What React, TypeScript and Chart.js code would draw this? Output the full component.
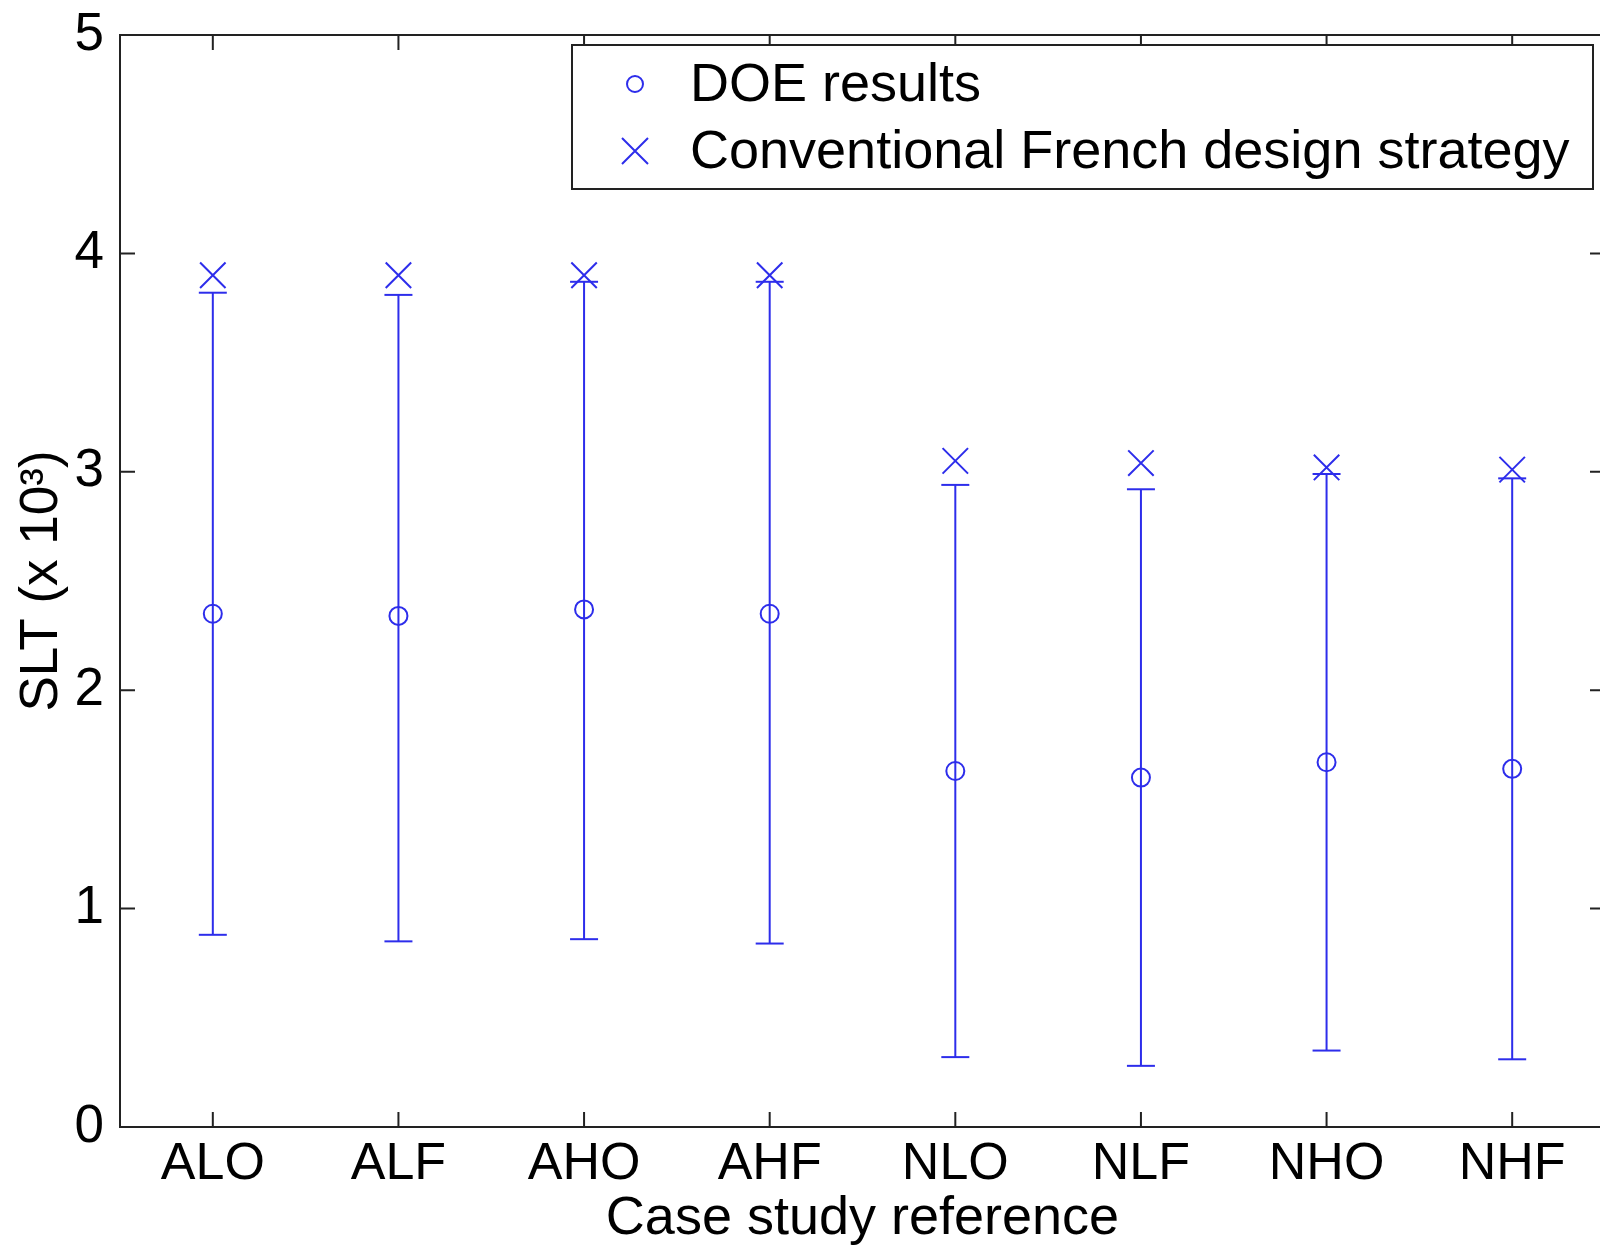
import React, { useEffect, useRef } from 'react';
import { Chart, registerables } from 'chart.js';

Chart.register(...registerables);

// ---- Data ----
const categories = ['ALO', 'ALF', 'AHO', 'AHF', 'NLO', 'NLF', 'NHO', 'NHF'];
const doeMean = [2.35, 2.34, 2.37, 2.35, 1.63, 1.60, 1.67, 1.64];
const doeUpper = [3.82, 3.81, 3.87, 3.87, 2.94, 2.92, 2.99, 2.97];
const doeLower = [0.88, 0.85, 0.86, 0.84, 0.32, 0.28, 0.35, 0.31];
const conventional = [3.90, 3.90, 3.90, 3.90, 3.05, 3.04, 3.02, 3.01];
const yTicks = [0, 1, 2, 3, 4, 5];
const seriesLabels = ['DOE results', 'Conventional French design strategy'];
const xTitle = 'Case study reference';
const yTitle = 'SLT (x 10³)';

const BLUE = 'rgb(45,45,235)';
const FONT = '"Liberation Sans", Arial, Helvetica, sans-serif';

const axesBoxPlugin = {
  id: 'axesBox',
  afterDatasetsDraw(chart: any) {
    const { ctx, chartArea, scales } = chart;
    const { left, right, top, bottom } = chartArea;
    const tl = 15;
    ctx.save();
    ctx.strokeStyle = '#222';
    ctx.lineWidth = 2;
    ctx.strokeRect(left, top, right - left, bottom - top);
    ctx.beginPath();
    scales.x.ticks.forEach((t: any) => {
      const px = scales.x.getPixelForValue(t.value);
      ctx.moveTo(px, bottom);
      ctx.lineTo(px, bottom - tl);
      ctx.moveTo(px, top);
      ctx.lineTo(px, top + tl);
    });
    scales.y.ticks.forEach((t: any) => {
      const py = scales.y.getPixelForValue(t.value);
      ctx.moveTo(left, py);
      ctx.lineTo(left + tl, py);
      ctx.moveTo(right, py);
      ctx.lineTo(right - tl, py);
    });
    ctx.stroke();
    ctx.restore();
  },
};

const boxLegendPlugin = {
  id: 'boxLegend',
  afterDraw(chart: any) {
    const { ctx } = chart;
    const bx = 572, by = 45, bw = 1021, bh = 144;
    ctx.save();
    ctx.fillStyle = '#fff';
    ctx.fillRect(bx, by, bw, bh);
    ctx.strokeStyle = '#222';
    ctx.lineWidth = 2;
    ctx.strokeRect(bx, by, bw, bh);
    const rows = [84, 151];
    const mx = 635;
    ctx.strokeStyle = BLUE;
    ctx.lineWidth = 2;
    ctx.beginPath();
    ctx.arc(mx, rows[0], 8, 0, Math.PI * 2);
    ctx.stroke();
    ctx.beginPath();
    ctx.moveTo(mx - 13, rows[1] - 13);
    ctx.lineTo(mx + 13, rows[1] + 13);
    ctx.moveTo(mx + 13, rows[1] - 13);
    ctx.lineTo(mx - 13, rows[1] + 13);
    ctx.stroke();
    ctx.fillStyle = '#000';
    ctx.font = `54px ${FONT}`;
    ctx.textBaseline = 'middle';
    ctx.textAlign = 'left';
    seriesLabels.forEach((lbl, i) => ctx.fillText(lbl, 690, rows[i] + 2));
    ctx.restore();
  },
};

export default function App() {
  const ref = useRef<HTMLCanvasElement>(null);

  useEffect(() => {
    if (!ref.current) return;
    const errData: any[] = [];
    categories.forEach((_, i) => {
      errData.push({ x: i + 1, y: doeLower[i] });
      errData.push({ x: i + 1, y: doeUpper[i] });
      errData.push({ x: i + 1, y: null });
    });

    const chart = new Chart(ref.current, {
      type: 'scatter',
      data: {
        datasets: [
          {
            label: 'range',
            data: errData,
            showLine: true,
            spanGaps: false,
            borderColor: BLUE,
            borderWidth: 2,
            pointStyle: 'line',
            pointRadius: 14,
            pointBorderColor: BLUE,
            pointBorderWidth: 2,
            backgroundColor: BLUE,
          } as any,
          {
            label: seriesLabels[0],
            data: doeMean.map((v, i) => ({ x: i + 1, y: v })),
            pointStyle: 'circle',
            pointRadius: 9,
            pointBorderWidth: 2,
            borderColor: BLUE,
            pointBorderColor: BLUE,
            backgroundColor: 'rgba(0,0,0,0)',
            pointBackgroundColor: 'rgba(0,0,0,0)',
          } as any,
          {
            label: seriesLabels[1],
            data: conventional.map((v, i) => ({ x: i + 1, y: v })),
            pointStyle: 'crossRot',
            pointRadius: 18,
            pointBorderWidth: 2,
            borderColor: BLUE,
            pointBorderColor: BLUE,
          } as any,
        ],
      },
      options: {
        responsive: false,
        animation: false,
        devicePixelRatio: 1,
        events: [],
        layout: { padding: { top: 35, right: 2, left: 0, bottom: 0 } },
        plugins: {
          legend: { display: false },
          tooltip: { enabled: false },
        },
        scales: {
          x: {
            type: 'linear',
            min: 0.5,
            max: 8.5,
            grid: { display: false, drawTicks: false },
            border: { display: false },
            afterBuildTicks: (s: any) => {
              s.ticks = categories.map((_, i) => ({ value: i + 1 }));
            },
            afterFit: (s: any) => {
              s.height = 122;
              s.paddingLeft = 0;
              s.paddingRight = 0;
            },
            ticks: {
              autoSkip: false,
              maxRotation: 0,
              minRotation: 0,
              padding: 12,
              color: '#000',
              font: { family: FONT, size: 52, lineHeight: 1 },
              callback: (v: any) => categories[Math.round(Number(v)) - 1] ?? '',
            },
            title: {
              display: true,
              text: xTitle,
              color: '#000',
              font: { family: FONT, size: 54, lineHeight: 1 },
              padding: { top: 0, bottom: 3 },
            },
          },
          y: {
            type: 'linear',
            min: 0,
            max: 5,
            grid: { display: false, drawTicks: false },
            border: { display: false },
            afterBuildTicks: (s: any) => {
              s.ticks = yTicks.map((v) => ({ value: v }));
            },
            afterFit: (s: any) => {
              s.width = 120;
              s.paddingTop = 0;
              s.paddingBottom = 0;
            },
            ticks: {
              padding: 16,
              color: '#000',
              font: { family: FONT, size: 53, lineHeight: 1 },
              callback: (v: any) => String(v),
            },
            title: {
              display: true,
              text: yTitle,
              color: '#000',
              font: { family: FONT, size: 53, lineHeight: 1 },
              padding: { top: 16, bottom: 0 },
            },
          },
        },
      } as any,
      plugins: [axesBoxPlugin, boxLegendPlugin],
    });
    return () => chart.destroy();
  }, []);

  return (
    <div
      style={{
        position: 'absolute',
        left: 0,
        top: 0,
        width: 1600,
        height: 1249,
        overflow: 'hidden',
        background: '#fff',
      }}
    >
      <canvas ref={ref} width={1625} height={1249} style={{ display: 'block' }} />
    </div>
  );
}
